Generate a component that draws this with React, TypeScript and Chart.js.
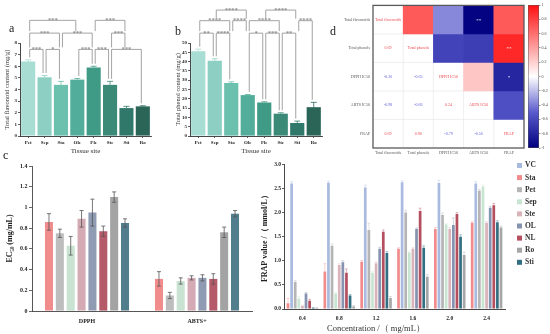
import React, { useEffect, useRef } from "react";
import { Chart, registerables } from "chart.js";
Chart.register(...registerables);

const SERIF = "'Liberation Serif', 'DejaVu Serif', serif";

// ---------- Panels a & b ----------
const tissueSites = ["Pet", "Sep", "Sta", "Ole", "Fle", "Ste", "Sti", "Ro"];
const flavonoidValues = [6.4, 5.05, 4.4, 4.85, 5.9, 4.4, 2.4, 2.55];
const flavonoidErrors = [0.15, 0.15, 0.3, 0.1, 0.1, 0.3, 0.15, 0.05];
const phenolValues = [45.5, 40.5, 28.5, 22, 18, 12, 7, 15.5];
const phenolErrors = [1.2, 1.0, 0.6, 0.3, 0.4, 0.5, 1.0, 2.6];
const tissueColors = ["#a8ddd3", "#8dd0c3", "#6cc0ae", "#52ae9b", "#3f9a86", "#3b8a78", "#30786a", "#2a6558"];
// [fromIndex, toIndex, level, label]
const flavonoidBrackets: [number, number, number, string][] = [
  [0, 1, 1, "***"], [1, 2, 1, "*"], [3, 4, 1, "***"], [4, 5, 1, "***"], [5, 7, 1, "***"],
  [0, 2, 2, "***"], [2, 4, 2, "***"], [5, 6, 2, "***"],
  [0, 3, 3, "***"], [4, 6, 3, "***"],
];
const flavonoidBracketLevels = [7.45, 8.85, 9.95];
const phenolBrackets: [number, number, number, string][] = [
  [0, 1, 1, "**"], [1, 2, 1, "****"], [3, 4, 1, "*"], [4, 5, 1, "***"], [5, 6, 1, "**"],
  [0, 2, 2, "****"], [2, 3, 2, "****"], [3, 5, 2, "****"], [6, 7, 2, "****"],
  [1, 3, 3, "****"], [4, 6, 3, "****"],
];
const phenolBracketLevels = [55.3, 62, 67.7];

// ---------- Panel c ----------
const assays = ["DPPH", "ABTS+"];
const ecSeries = ["Sta", "Pet", "Sep", "Ste", "OL", "NL", "Ro", "Sti"];
const ecDPPH = [0.86, 0.75, 0.63, 0.89, 0.95, 0.77, 1.1, 0.85];
const ecDPPHErr = [0.08, 0.04, 0.09, 0.08, 0.13, 0.05, 0.05, 0.04];
const ecABTS = [0.31, 0.15, 0.29, 0.32, 0.32, 0.31, 0.76, 0.94];
const ecABTSErr = [0.07, 0.03, 0.03, 0.02, 0.03, 0.05, 0.05, 0.03];
const ecColors = ["#f08c8c", "#bdbdbd", "#c9e2d2", "#d4aab4", "#8e9bb2", "#b45a68", "#a3a3a3", "#517d8c"];

// ---------- FRAP panel ----------
const concentrations = ["0.4", "0.8", "1.2", "1.6", "2.0", "2.4"];
const frapSeries = ["Sta", "VC", "Pet", "Sep", "Ste", "OL", "NL", "Sti", "Ro"];
const frapSta = [0.12, 0.78, 0.98, 1.25, 1.66, 1.79];
const frapVC = [2.6, 2.62, 2.52, 2.63, 2.61, 2.6];
const frapPet = [0.56, 1.31, 1.64, 2.0, 1.95, 2.45];
const frapSep = [0.22, 0.32, 0.75, 1.17, 1.75, 2.54];
const frapSte = [0.06, 0.91, 0.95, 1.25, 1.66, 1.79];
const frapOL = [0.32, 0.97, 1.25, 1.66, 1.74, 2.1];
const frapNL = [0.17, 0.75, 1.6, 2.03, 1.97, 2.15];
const frapSti = [0.02, 0.28, 1.16, 1.27, 1.5, 1.8];
const frapRo = [0.02, 0.05, 0.23, 0.67, 1.12, 1.69];
const frapStaErr = [0.1, 0.16, 0.03, 0.02, 0.03, 0.02];
const frapVCErr = [0.04, 0.03, 0.05, 0.03, 0.06, 0.04];
const frapPetErr = [0.03, 0.04, 0.14, 0.05, 0.04, 0.03];
const frapSepErr = [0.04, 0.02, 0.03, 0.03, 0.02, 0.03];
const frapSteErr = [0.02, 0.03, 0.03, 0.02, 0.03, 0.02];
const frapOLErr = [0.02, 0.03, 0.03, 0.02, 0.15, 0.03];
const frapNLErr = [0.03, 0.08, 0.04, 0.06, 0.03, 0.04];
const frapStiErr = [0.01, 0.02, 0.03, 0.04, 0.04, 0.03];
const frapRoErr = [0.01, 0.02, 0.03, 0.04, 0.06, 0.03];
const frapColors = ["#f28b8b", "#a9badf", "#b5b5b5", "#c8e5d2", "#d9b3ba", "#8592b0", "#b34f5e", "#336f82", "#a6a6a6"];
const frapLegendOrder = ["VC", "Sta", "Pet", "Sep", "Ste", "OL", "NL", "Ro", "Sti"];

// ---------- Panel d ----------
const corrVars = ["Total flavonoids", "Total phenols", "DPPH IC50", "ABTS IC50", "FRAP"];
const corrTF = [1, 0.69, -0.36, -0.98, 0.69];
const corrTP = [0.69, 1, -0.63, -0.66, 0.9];
const corrDPPH = [-0.36, -0.63, 1, 0.24, -0.79];
const corrABTS = [-0.98, -0.66, 0.24, 1, -0.56];
const corrFRAP = [0.69, 0.9, -0.79, -0.56, 1];
const corrSig: [number, number, string][] = [[0, 3, "**"], [1, 4, "**"], [2, 4, "*"]];
const colorbarTicks = [1, 0.8, 0.6, 0.4, 0.2, 0, -0.2, -0.4, -0.6, -0.8, -1];

function hex(c: string) {
  return [parseInt(c.slice(1, 3), 16), parseInt(c.slice(3, 5), 16), parseInt(c.slice(5, 7), 16)];
}
function mix(a: string, b: string, t: number) {
  const A = hex(a), B = hex(b);
  const r = A.map((v, i) => Math.round(v + (B[i] - v) * t));
  return `rgb(${r[0]},${r[1]},${r[2]})`;
}
function corrColor(v: number) {
  if (v >= 0) return mix("#ffffff", "#ff1010", v);
  const t = -v;
  if (t <= 0.5) return mix("#ffffff", "#5a5acd", t / 0.5);
  return mix("#5a5acd", "#00007f", (t - 0.5) / 0.5);
}

function errorBarPlugin(errors: number[][], style: any) {
  return {
    id: "errorBars",
    afterDatasetsDraw(chart: any) {
      const { ctx } = chart;
      const yScale = chart.scales.y;
      ctx.save();
      chart.data.datasets.forEach((ds: any, d: number) => {
        const meta = chart.getDatasetMeta(d);
        meta.data.forEach((el: any, i: number) => {
          const err = errors[d] && errors[d][i];
          if (!err) return;
          const v = ds.data[i];
          const x = el.x;
          const top = yScale.getPixelForValue(v + err);
          const bottom = style.both ? yScale.getPixelForValue(Math.max(0, v - err)) : el.y;
          const bg = Array.isArray(ds.backgroundColor) ? ds.backgroundColor[i] : ds.backgroundColor;
          ctx.strokeStyle = style.color || bg;
          ctx.globalAlpha = style.alpha ?? 1;
          ctx.lineWidth = style.width;
          ctx.beginPath();
          ctx.moveTo(x, top);
          ctx.lineTo(x, bottom);
          ctx.moveTo(x - style.cap, top);
          ctx.lineTo(x + style.cap, top);
          if (style.both) {
            ctx.moveTo(x - style.cap, bottom);
            ctx.lineTo(x + style.cap, bottom);
          }
          ctx.stroke();
        });
      });
      ctx.restore();
    },
  };
}

function bracketPlugin(values: number[], errors: number[], brackets: [number, number, number, string][], levels: number[]) {
  return {
    id: "brackets",
    afterDatasetsDraw(chart: any) {
      const { ctx } = chart;
      const x = chart.scales.x, y = chart.scales.y;
      const legBottom = (k: number, lvl: number) => {
        let best = 0;
        for (const b of brackets) if (b[2] < lvl && b[0] <= k && k <= b[1] && b[2] > best) best = b[2];
        if (best > 0) return y.getPixelForValue(levels[best - 1]) - 2;
        return y.getPixelForValue(values[k] + errors[k]) - 2.5;
      };
      ctx.save();
      ctx.strokeStyle = "#8c8c8c";
      ctx.fillStyle = "#6a6a6a";
      ctx.lineWidth = 0.8;
      ctx.font = `6.5px ${SERIF}`;
      ctx.textAlign = "center";
      ctx.textBaseline = "alphabetic";
      for (const [i, j, lvl, txt] of brackets) {
        const yl = y.getPixelForValue(levels[lvl - 1]);
        const xi = x.getPixelForValue(i) + 1.5;
        const xj = x.getPixelForValue(j) - 1.5;
        ctx.beginPath();
        ctx.moveTo(xi, legBottom(i, lvl));
        ctx.lineTo(xi, yl);
        ctx.lineTo(xj, yl);
        ctx.lineTo(xj, legBottom(j, lvl));
        ctx.stroke();
        ctx.fillText(txt, (xi + xj) / 2, yl + 1.6);
      }
      ctx.restore();
    },
  };
}

function tissueChart(canvas: HTMLCanvasElement, values: number[], errors: number[], max: number, step: number,
  yTitle: string, yWidth: number, titlePad: number, padRight: number, brackets: any, levels: number[]) {
  const tickFont = { family: SERIF, size: 5, weight: "bold" as const };
  return new Chart(canvas, {
    type: "bar",
    data: {
      labels: tissueSites,
      datasets: [{ data: values, backgroundColor: tissueColors, barPercentage: 0.86, categoryPercentage: 1 }],
    },
    options: {
      responsive: false,
      animation: false,
      devicePixelRatio: 1,
      layout: { padding: { top: 43, right: padRight, left: 0, bottom: 0 } },
      plugins: { legend: { display: false }, tooltip: { enabled: false } },
      scales: {
        x: {
          grid: { display: true, drawOnChartArea: false, offset: false, tickLength: 2, color: "#333", lineWidth: 0.8 },
          border: { color: "#333", width: 0.9 },
          ticks: { font: tickFont, color: "#222", padding: 1.5, maxRotation: 0, autoSkip: false },
          title: { display: true, text: "Tissue site", font: { family: SERIF, size: 7 }, color: "#333", padding: { top: 0, bottom: 5 } },
          afterFit: (s: any) => { s.height = 24; },
        },
        y: {
          min: 0, max,
          ticks: { stepSize: step, font: tickFont, color: "#222", padding: 1 },
          grid: { display: true, drawOnChartArea: false, tickLength: 2, color: "#333", lineWidth: 0.8 },
          border: { color: "#333", width: 0.9 },
          title: { display: true, text: yTitle, font: { family: SERIF, size: 6.5 }, color: "#333", padding: { top: titlePad, bottom: 0 } },
          afterFit: (s: any) => { s.width = yWidth; },
        },
      },
    },
    plugins: [errorBarPlugin([errors], { both: false, cap: 3, width: 0.8 }), bracketPlugin(values, errors, brackets, levels)],
  } as any);
}

function ecChart(canvas: HTMLCanvasElement) {
  const tickFont = { family: SERIF, size: 6, weight: "bold" as const };
  return new Chart(canvas, {
    type: "bar",
    data: {
      labels: assays,
      datasets: ecSeries.map((name, k) => ({
        label: name,
        data: [ecDPPH[k], ecABTS[k]],
        backgroundColor: ecColors[k],
        barPercentage: 0.74,
        categoryPercentage: 0.79,
      })),
    },
    options: {
      responsive: false,
      animation: false,
      devicePixelRatio: 1,
      layout: { padding: { top: 6, right: 16, left: 0, bottom: 0 } },
      plugins: { legend: { display: false }, tooltip: { enabled: false } },
      scales: {
        x: {
          grid: { display: false, drawTicks: false, tickLength: 0 },
          border: { color: "#444", width: 0.9 },
          ticks: { font: tickFont, color: "#222", padding: 7, maxRotation: 0 },
          afterFit: (s: any) => { s.height = 23; },
        },
        y: {
          min: 0, max: 1.4,
          ticks: { stepSize: 0.2, font: tickFont, color: "#222", padding: 1.5, callback: (v: any) => String(+(+v).toFixed(1)) },
          grid: { display: true, drawOnChartArea: false, tickLength: 3, color: "#444", lineWidth: 0.8 },
          border: { color: "#444", width: 0.9 },
          title: { display: true, text: "EC₅₀ (mg/mL)", font: { family: SERIF, size: 8, weight: "bold" }, color: "#222", padding: { top: 5, bottom: 0 } },
          afterFit: (s: any) => { s.width = 32; },
        },
      },
    },
    plugins: [errorBarPlugin(ecSeries.map((_, k) => [ecDPPHErr[k], ecABTSErr[k]]), { both: true, cap: 2, width: 0.8, color: "#555" })],
  } as any);
}

function frapChart(canvas: HTMLCanvasElement) {
  const values = [frapSta, frapVC, frapPet, frapSep, frapSte, frapOL, frapNL, frapSti, frapRo];
  const errs = [frapStaErr, frapVCErr, frapPetErr, frapSepErr, frapSteErr, frapOLErr, frapNLErr, frapStiErr, frapRoErr];
  const tickFont = { family: SERIF, size: 5.5, weight: "bold" as const };
  const legendPlugin = {
    id: "frapLegend",
    afterDraw(chart: any) {
      const { ctx } = chart;
      ctx.save();
      ctx.font = `bold 7.5px ${SERIF}`;
      ctx.textBaseline = "middle";
      ctx.textAlign = "left";
      frapLegendOrder.forEach((name, n) => {
        const d = chart.data.datasets.findIndex((ds: any) => ds.label === name);
        const ds = chart.data.datasets[d];
        const yy = 5.5 + n * 12.1;
        ctx.fillStyle = ds.backgroundColor;
        ctx.fillRect(262, yy - 2.5, 5, 5);
        ctx.fillStyle = "#333";
        ctx.fillText(name, 270, yy);
      });
      ctx.restore();
    },
  };
  return new Chart(canvas, {
    type: "bar",
    data: {
      labels: concentrations,
      datasets: frapSeries.map((name, k) => ({
        label: name,
        data: values[k],
        backgroundColor: frapColors[k],
        barPercentage: 0.75,
        categoryPercentage: 0.88,
      })),
    },
    options: {
      responsive: false,
      animation: false,
      devicePixelRatio: 1,
      layout: { padding: { top: 3, right: 45, left: 0, bottom: 0 } },
      plugins: { legend: { display: false }, tooltip: { enabled: false } },
      scales: {
        x: {
          grid: { display: false, drawTicks: false, tickLength: 0 },
          border: { color: "#333", width: 0.9 },
          ticks: { font: tickFont, color: "#222", padding: 6, maxRotation: 0 },
          afterFit: (s: any) => { s.height = 25; },
        },
        y: {
          min: 0, max: 3,
          ticks: { stepSize: 0.5, font: tickFont, color: "#222", padding: 1, callback: (v: any) => (+v).toFixed(1) },
          grid: { display: true, drawOnChartArea: false, tickLength: 2, color: "#333", lineWidth: 0.8 },
          border: { color: "#333", width: 0.9 },
          title: { display: true, text: "FRAP value /（ mmol/L）", font: { family: SERIF, size: 8, weight: "bold" }, color: "#222", padding: { top: 5, bottom: 0 } },
          afterFit: (s: any) => { s.width = 29; },
        },
      },
    },
    plugins: [errorBarPlugin(errs, { both: false, cap: 1.4, width: 0.7, alpha: 0.55 }), legendPlugin],
  } as any);
}

function heatmapChart(canvas: HTMLCanvasElement) {
  const matrix = [corrTF, corrTP, corrDPPH, corrABTS, corrFRAP];
  const labelFont = { family: SERIF, size: 4 };
  const decor = {
    id: "heatDecor",
    beforeDatasetsDraw(chart: any) {
      const { ctx, chartArea: a } = chart;
      const x = chart.scales.x, y = chart.scales.y;
      ctx.save();
      ctx.strokeStyle = "#e4e4e4";
      ctx.lineWidth = 0.6;
      for (let c = 1; c < corrVars.length; c++) {
        const px = (x.getPixelForValue(c - 1) + x.getPixelForValue(c)) / 2;
        ctx.beginPath(); ctx.moveTo(px, a.top); ctx.lineTo(px, a.bottom); ctx.stroke();
        const py = y.getPixelForValue(c);
        ctx.beginPath(); ctx.moveTo(a.left, py); ctx.lineTo(a.right, py); ctx.stroke();
      }
      ctx.restore();
    },
    afterDatasetsDraw(chart: any) {
      const { ctx, chartArea: a } = chart;
      const x = chart.scales.x, y = chart.scales.y;
      ctx.save();
      ctx.textAlign = "center";
      ctx.textBaseline = "middle";
      ctx.font = `4px ${SERIF}`;
      matrix.forEach((row, r) => {
        row.forEach((v, c) => {
          const px = x.getPixelForValue(c);
          const py = y.getPixelForValue(r + 0.5);
          if (r === c) {
            ctx.fillStyle = "#e8484f";
            ctx.fillText(corrVars[r], px, py);
          } else if (r > c) {
            ctx.fillStyle = v >= 0 ? "#e8484f" : "#5c5cd6";
            ctx.fillText(v.toFixed(2), px, py);
          }
        });
      });
      ctx.fillStyle = "#ffffff";
      ctx.font = `5px ${SERIF}`;
      for (const [r, c, s] of corrSig) {
        ctx.fillText(s, x.getPixelForValue(c), y.getPixelForValue(r + 0.5) + 1);
      }
      ctx.strokeStyle = "#5a5a5a";
      ctx.lineWidth = 1.3;
      ctx.strokeRect(a.left, a.top, a.right - a.left, a.bottom - a.top);
      ctx.restore();
    },
  };
  return new Chart(canvas, {
    type: "bar",
    data: {
      labels: corrVars,
      datasets: corrVars.map((_, r) => ({
        label: corrVars[r],
        data: corrVars.map(() => [r, r + 1]),
        backgroundColor: corrVars.map((_, c) => (c > r ? corrColor(matrix[r][c]) : "rgba(255,255,255,0)")),
        barPercentage: 1,
        categoryPercentage: 1,
        grouped: false,
        borderWidth: 0,
      })),
    },
    options: {
      responsive: false,
      animation: false,
      devicePixelRatio: 1,
      layout: { padding: { top: 5, right: 26, left: 0, bottom: 0 } },
      plugins: { legend: { display: false }, tooltip: { enabled: false } },
      scales: {
        x: {
          grid: { display: false, drawTicks: false, tickLength: 0 },
          border: { display: false },
          ticks: { font: labelFont, color: "#555", padding: 3, maxRotation: 0, autoSkip: false },
          afterFit: (s: any) => { s.height = 12; },
        },
        y: {
          min: 0, max: 5, reverse: true,
          afterBuildTicks: (s: any) => { s.ticks = corrVars.map((_, i) => ({ value: i + 0.5 })); },
          ticks: { font: labelFont, color: "#555", padding: 3, autoSkip: false, callback: (v: any) => corrVars[Math.floor(v)] },
          grid: { display: false, drawTicks: false, tickLength: 0 },
          border: { display: false },
          afterFit: (s: any) => { s.width = 73; },
        },
      },
    },
    plugins: [decor],
  } as any);
}

function colorbarChart(canvas: HTMLCanvasElement) {
  return new Chart(canvas, {
    type: "bar",
    data: {
      labels: ["r"],
      datasets: [{
        data: [[-1, 1]],
        backgroundColor: (c: any) => {
          const ch = c.chart;
          const a = ch.chartArea;
          if (!a) return "#fff";
          const g = ch.ctx.createLinearGradient(0, a.bottom, 0, a.top);
          g.addColorStop(0, "#00007f");
          g.addColorStop(0.25, "#5a5acd");
          g.addColorStop(0.5, "#ffffff");
          g.addColorStop(1, "#ff1010");
          return g;
        },
        borderColor: "#555",
        borderWidth: 0.8,
        borderSkipped: false,
        barPercentage: 1,
        categoryPercentage: 1,
      }],
    },
    options: {
      responsive: false,
      animation: false,
      devicePixelRatio: 1,
      layout: { padding: { top: 5, right: 0, left: 4, bottom: 12 } },
      plugins: { legend: { display: false }, tooltip: { enabled: false } },
      scales: {
        x: { display: false },
        y: {
          position: "right",
          min: -1, max: 1,
          afterBuildTicks: (s: any) => { s.ticks = colorbarTicks.map((v) => ({ value: v })); },
          ticks: { font: { family: SERIF, size: 4 }, color: "#444", padding: 1, callback: (v: any) => String(+(+v).toFixed(1)) },
          grid: { display: true, drawOnChartArea: false, tickLength: 1.5, color: "#555", lineWidth: 0.6 },
          border: { display: false },
          afterFit: (s: any) => { s.width = 11; },
        },
      },
    },
  } as any);
}

const letterStyle: React.CSSProperties = {
  position: "absolute", fontFamily: SERIF, fontSize: 12, color: "#222", lineHeight: "12px",
};

export default function App() {
  const aRef = useRef<HTMLCanvasElement>(null);
  const bRef = useRef<HTMLCanvasElement>(null);
  const cRef = useRef<HTMLCanvasElement>(null);
  const fRef = useRef<HTMLCanvasElement>(null);
  const dRef = useRef<HTMLCanvasElement>(null);
  const cbRef = useRef<HTMLCanvasElement>(null);

  useEffect(() => {
    document.body.style.margin = "0";
    const charts = [
      tissueChart(aRef.current!, flavonoidValues, flavonoidErrors, 8, 1, "Total flavonoid content (mg/g)", 20, 3, 21, flavonoidBrackets, flavonoidBracketLevels),
      tissueChart(bRef.current!, phenolValues, phenolErrors, 50, 5, "Total phenol content (mg/g)", 18, 2, 28, phenolBrackets, phenolBracketLevels),
      ecChart(cRef.current!),
      frapChart(fRef.current!),
      heatmapChart(dRef.current!),
      colorbarChart(cbRef.current!),
    ];
    return () => charts.forEach((c) => c.destroy());
  }, []);

  const abs = (left: number, top: number): React.CSSProperties => ({ position: "absolute", left, top });

  return (
    <div style={{ position: "absolute", left: 0, top: 0, width: 550, height: 334, background: "#fff", overflow: "hidden" }}>
      <canvas ref={aRef} width={172} height={160} style={abs(0, 0)} />
      <canvas ref={bRef} width={178} height={160} style={abs(172, 0)} />
      <canvas ref={dRef} width={250} height={160} style={abs(300, 0)} />
      <canvas ref={cbRef} width={26} height={160} style={abs(524, 0)} />
      <canvas ref={cRef} width={268} height={174} style={abs(0, 160)} />
      <canvas ref={fRef} width={295} height={174} style={abs(255, 160)} />
      <span style={{ ...letterStyle, left: 9, top: 22 }}>a</span>
      <span style={{ ...letterStyle, left: 175, top: 25 }}>b</span>
      <span style={{ ...letterStyle, left: 3, top: 149 }}>c</span>
      <span style={{ ...letterStyle, left: 330, top: 25 }}>d</span>
      <div style={{ position: "absolute", left: 300, top: 322, width: 152, textAlign: "center", fontFamily: SERIF, fontSize: 8.5, color: "#333", lineHeight: "12px", whiteSpace: "nowrap" }}>
        Concentration /（ mg/mL）
      </div>
    </div>
  );
}
